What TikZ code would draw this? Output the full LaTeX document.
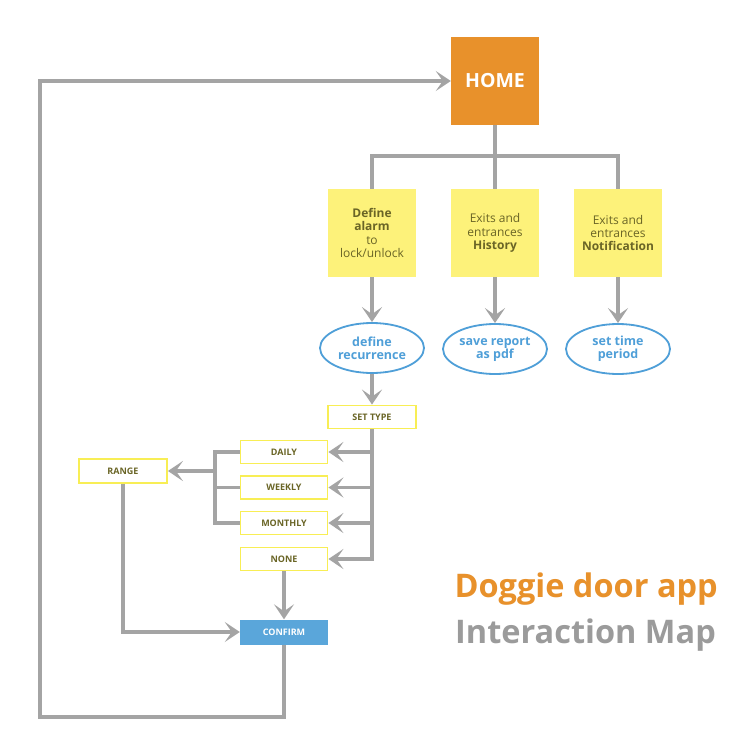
\documentclass[tikz,border=0pt]{standalone}
\usepackage{fontspec}
\setmainfont{Open Sans}
\usetikzlibrary{arrows.meta,shapes.geometric}
\definecolor{cgray}{HTML}{A4A4A4}
\definecolor{corange}{HTML}{E8912B}
\definecolor{cyellow}{HTML}{FDF27A}
\definecolor{cyline}{HTML}{F8EE55}
\definecolor{colive}{HTML}{6A6526}
\definecolor{cblue}{HTML}{4F9FD8}
\definecolor{cbluefill}{HTML}{5AA6DA}
\definecolor{ctitlegray}{HTML}{9B9B9B}
\begin{document}
\begin{tikzpicture}[x=1pt,y=-1pt,
  conn/.style={draw=cgray,line width=3.4pt},
  arr/.style={conn,-{Stealth[length=15pt,width=20pt,inset=7pt]}},
  bigbox/.style={rectangle,fill=cyellow,minimum width=88pt,minimum height=88pt,inner sep=2pt,
     align=center,text=colive,font=\fontsize{12}{13.3}\selectfont},
  oval/.style={ellipse,draw=cblue,line width=1.8pt,fill=white,minimum width=104pt,minimum height=50pt,
     inner sep=0pt,align=center,text=cblue,font=\bfseries\fontsize{12.5}{13}\selectfont},
  smallbox/.style={rectangle,draw=cyline,line width=1.8pt,fill=white,minimum width=87pt,minimum height=23pt,
     inner sep=0pt,text=colive,font=\bfseries\fontsize{9}{10}\selectfont},
]
\useasboundingbox[fill=white] (0,0) rectangle (750,755);

% nodes
\node[rectangle,fill=corange,minimum width=88pt,minimum height=88pt,text=white,
      font=\bfseries\fontsize{19.5}{21}\selectfont] (home) at (495,81) {HOME};
\node[bigbox] (b1) at (372,233) {\textbf{Define}\\\textbf{alarm}\\to\\lock/unlock};
\node[bigbox] (b2) at (495,233) {Exits and\\entrances\\\textbf{History}};
\node[bigbox] (b3) at (618,233) {Exits and\\entrances\\\textbf{Notification}};
\node[oval] (e1) at (372,348) {define\\recurrence};
\node[oval] (e2) at (495,349) {save report\\as pdf};
\node[oval] (e3) at (618,349) {set time\\period};
\node[smallbox,minimum width=88pt] (st) at (372,417) {SET TYPE};
\node[smallbox] (daily) at (284,452) {DAILY};
\node[smallbox] (weekly) at (284,487.5) {WEEKLY};
\node[smallbox] (monthly) at (284,523) {MONTHLY};
\node[smallbox] (none) at (284,559) {NONE};
\node[smallbox,minimum width=88pt,minimum height=24pt] (range) at (123,471) {RANGE};
\node[rectangle,fill=cbluefill,minimum width=88pt,minimum height=25pt,inner sep=0pt,text=white,
      font=\bfseries\fontsize{9}{10}\selectfont] (confirm) at (284,632) {CONFIRM};

\node[anchor=base east,text=corange,font=\bfseries\fontsize{32.5}{32.5}\selectfont,inner sep=0pt] (t1) at (718,597) {Doggie door app};
\node[anchor=base west,text=ctitlegray,font=\bfseries\fontsize{32.5}{32.5}\selectfont,inner sep=0pt] (t2) at (455,643) {Interaction Map};

% connectors
\coordinate (hj) at (495,156);
\draw[conn] (home.south) -- (hj);
\draw[conn] (b1.north) |- (hj) -| (b3.north);
\draw[conn] (hj) -- (b2.north);
\draw[arr] (b1.south) -- (e1.north);
\draw[arr] (b2.south) -- (e2.north);
\draw[arr] (b3.south) -- (e3.north);
\draw[arr] (e1.south) -- (st.north);
\draw[arr] (st.south) |- (none.east);
\draw[arr] (st.south |- daily.east) -- (daily.east);
\draw[arr] (st.south |- weekly.east) -- (weekly.east);
\draw[arr] (st.south |- monthly.east) -- (monthly.east);
\coordinate (bk) at (215,471);
\draw[conn] (daily.west) -| (bk) |- (monthly.west);
\draw[conn] (weekly.west) -- (weekly.west -| bk);
\draw[arr] (bk) -- (range.east);
\draw[arr] (range.south) |- (confirm.west);
\draw[arr] (none.south) -- (confirm.north);
\coordinate (lc) at (40,717);
\draw[arr] (confirm.south) |- (lc) |- (home.west);
\end{tikzpicture}
\end{document}
